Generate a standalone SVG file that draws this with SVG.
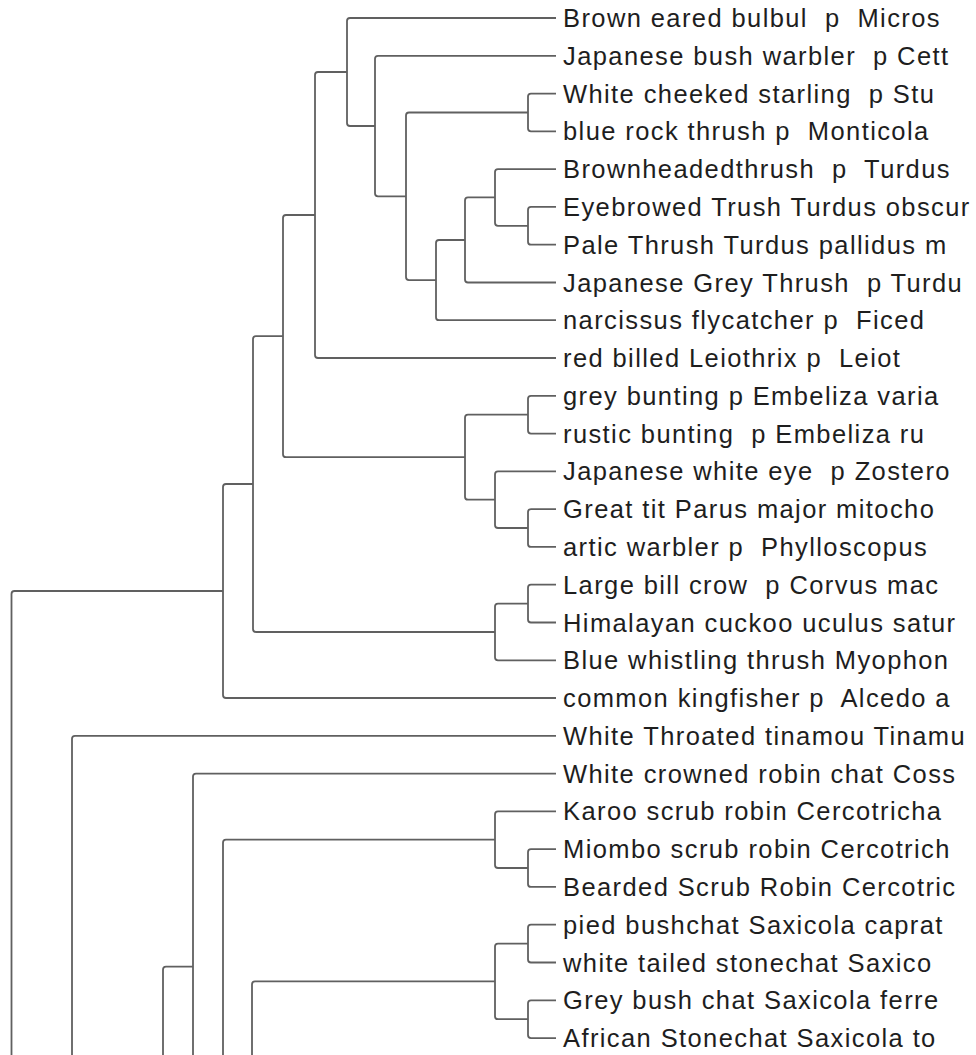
<svg xmlns="http://www.w3.org/2000/svg" width="976" height="1055" viewBox="0 0 976 1055">
  <style>
    .br { fill: none; stroke: #606060; stroke-width: 1.8; stroke-linejoin: round; }
    .lbl { font-family: "Liberation Sans", Arial, sans-serif; font-size: 25.5px; letter-spacing: 1.4px; fill: #1e1e1e; white-space: pre; }
  </style>
  <rect width="976" height="1055" fill="#ffffff"/>

  <!-- dendrogram branches: one bracket per internal split -->
  <g id="connectors" class="br">
    <path d="M556 93.6H531Q528 93.6 528 96.6V128.3Q528 131.3 531 131.3H556"/>
    <path d="M556 206.9H531Q528 206.9 528 209.9V241.7Q528 244.7 531 244.7H556"/>
    <path d="M556 169.1H498Q495 169.1 495 172.1V222.8Q495 225.8 498 225.8H528"/>
    <path d="M495 197.4H468Q465 197.4 465 200.4V279.5Q465 282.5 468 282.5H556"/>
    <path d="M465 240H439Q436 240 436 243V317.2Q436 320.2 439 320.2H556"/>
    <path d="M528 112.5H409Q406 112.5 406 115.5V277.1Q406 280.1 409 280.1H436"/>
    <path d="M556 55.8H378Q375 55.8 375 58.8V193.3Q375 196.3 378 196.3H406"/>
    <path d="M556 18H350Q347 18 347 21V123Q347 126 350 126H375"/>
    <path d="M347 72H318Q315 72 315 75V355Q315 358 318 358H556"/>
    <path d="M556 395.8H531Q528 395.8 528 398.8V430.6Q528 433.6 531 433.6H556"/>
    <path d="M556 509.1H531Q528 509.1 528 512.1V543.9Q528 546.9 531 546.9H556"/>
    <path d="M556 471.4H498Q495 471.4 495 474.4V525Q495 528 498 528H528"/>
    <path d="M528 414.7H468Q465 414.7 465 417.7V496.7Q465 499.7 468 499.7H495"/>
    <path d="M315 215H286Q283 215 283 218V454.2Q283 457.2 286 457.2H465"/>
    <path d="M556 584.7H531Q528 584.7 528 587.7V619.5Q528 622.5 531 622.5H556"/>
    <path d="M528 603.6H498Q495 603.6 495 606.6V657.3Q495 660.3 498 660.3H556"/>
    <path d="M283 336.1H256Q253 336.1 253 339.1V629Q253 632 256 632H495"/>
    <path d="M253 484H226Q223 484 223 487V695Q223 698 226 698H556"/>
    <path d="M223 591H14.5Q11.5 591 11.5 594V1060"/>
    <path d="M556 735.8H75Q72 735.8 72 738.8V1060"/>
    <path d="M556 773.6H196Q193 773.6 193 776.6V1060"/>
    <path d="M193 966.7H166Q163 966.7 163 969.7V1060"/>
    <path d="M556 849.2H531Q528 849.2 528 852.2V883.9Q528 886.9 531 886.9H556"/>
    <path d="M556 811.4H498Q495 811.4 495 814.4V865Q495 868 498 868H528"/>
    <path d="M495 839.7H226Q223 839.7 223 842.7V1060"/>
    <path d="M556 924.7H531Q528 924.7 528 927.7V959.5Q528 962.5 531 962.5H556"/>
    <path d="M556 1000.3H531Q528 1000.3 528 1003.3V1035.1Q528 1038.1 531 1038.1H556"/>
    <path d="M528 943.6H498Q495 943.6 495 946.6V1016.2Q495 1019.2 498 1019.2H528"/>
    <path d="M495 981.4H255Q252 981.4 252 984.4V1060"/>
  </g>

  <!-- leaf labels -->
  <g id="leaf-00"><text class="lbl" x="563" y="27">Brown eared bulbul  p  Micros</text></g>
  <g id="leaf-01"><text class="lbl" x="563" y="64.8">Japanese bush warbler  p Cett</text></g>
  <g id="leaf-02"><text class="lbl" x="563" y="102.6">White cheeked starling  p Stu</text></g>
  <g id="leaf-03"><text class="lbl" x="563" y="140.3">blue rock thrush p  Monticola</text></g>
  <g id="leaf-04"><text class="lbl" x="563" y="178.1">Brownheadedthrush  p  Turdus</text></g>
  <g id="leaf-05"><text class="lbl" x="563" y="215.9">Eyebrowed Trush Turdus obscur</text></g>
  <g id="leaf-06"><text class="lbl" x="563" y="253.7">Pale Thrush Turdus pallidus m</text></g>
  <g id="leaf-07"><text class="lbl" x="563" y="291.5">Japanese Grey Thrush  p Turdu</text></g>
  <g id="leaf-08"><text class="lbl" x="563" y="329.2">narcissus flycatcher p  Ficed</text></g>
  <g id="leaf-09"><text class="lbl" x="563" y="367">red billed Leiothrix p  Leiot</text></g>
  <g id="leaf-10"><text class="lbl" x="563" y="404.8">grey bunting p Embeliza varia</text></g>
  <g id="leaf-11"><text class="lbl" x="563" y="442.6">rustic bunting  p Embeliza ru</text></g>
  <g id="leaf-12"><text class="lbl" x="563" y="480.4">Japanese white eye  p Zostero</text></g>
  <g id="leaf-13"><text class="lbl" x="563" y="518.1">Great tit Parus major mitocho</text></g>
  <g id="leaf-14"><text class="lbl" x="563" y="555.9">artic warbler p  Phylloscopus</text></g>
  <g id="leaf-15"><text class="lbl" x="563" y="593.7">Large bill crow  p Corvus mac</text></g>
  <g id="leaf-16"><text class="lbl" x="563" y="631.5">Himalayan cuckoo uculus satur</text></g>
  <g id="leaf-17"><text class="lbl" x="563" y="669.3">Blue whistling thrush Myophon</text></g>
  <g id="leaf-18"><text class="lbl" x="563" y="707">common kingfisher p  Alcedo a</text></g>
  <g id="leaf-19"><text class="lbl" x="563" y="744.8">White Throated tinamou Tinamu</text></g>
  <g id="leaf-20"><text class="lbl" x="563" y="782.6">White crowned robin chat Coss</text></g>
  <g id="leaf-21"><text class="lbl" x="563" y="820.4">Karoo scrub robin Cercotricha</text></g>
  <g id="leaf-22"><text class="lbl" x="563" y="858.2">Miombo scrub robin Cercotrich</text></g>
  <g id="leaf-23"><text class="lbl" x="563" y="895.9">Bearded Scrub Robin Cercotric</text></g>
  <g id="leaf-24"><text class="lbl" x="563" y="933.7">pied bushchat Saxicola caprat</text></g>
  <g id="leaf-25"><text class="lbl" x="563" y="971.5">white tailed stonechat Saxico</text></g>
  <g id="leaf-26"><text class="lbl" x="563" y="1009.3">Grey bush chat Saxicola ferre</text></g>
  <g id="leaf-27"><text class="lbl" x="563" y="1047.1">African Stonechat Saxicola to</text></g>
</svg>
